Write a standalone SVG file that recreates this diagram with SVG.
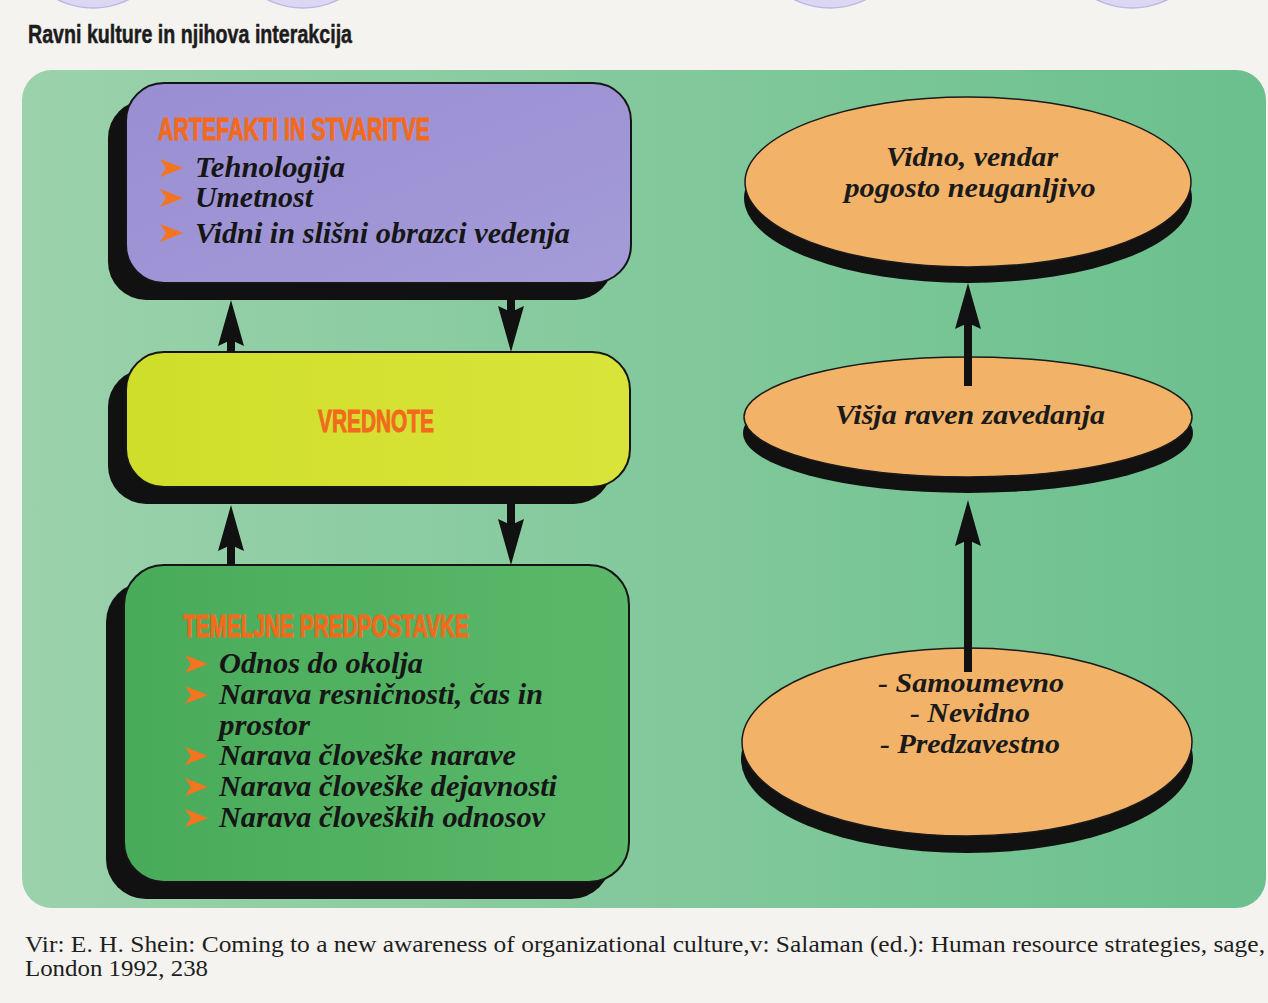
<svg xmlns="http://www.w3.org/2000/svg" width="1268" height="1003" viewBox="0 0 1268 1003">
<defs>
<style>
.title{font-family:"Liberation Sans Narrow","Liberation Sans",Arial,sans-serif;font-weight:bold;font-size:25px;fill:#1c1c1c;stroke:#1c1c1c;stroke-width:0.5}
.head{font-family:"Liberation Sans Narrow","Liberation Sans",Arial,sans-serif;font-weight:bold;font-size:31px;fill:#f26a1c;stroke:#f26a1c;stroke-width:1}
.item{font-family:"Times New Roman","Liberation Serif",Times,serif;font-style:italic;font-weight:bold;font-size:29px;fill:#161616}
.eltx{font-family:"Times New Roman","Liberation Serif",Times,serif;font-style:italic;font-weight:bold;font-size:27px;fill:#1a1a1a;text-anchor:middle}
.src{font-family:"Times New Roman","Liberation Serif",Times,serif;font-size:23px;fill:#1e1e1e}
.shadow{fill:#111}
.boxline{stroke:#151515;stroke-width:2}
.ell{fill:#f2b267;stroke:#1a1a1a;stroke-width:1.5}
.conn{stroke:#111;stroke-width:8;fill:none;marker-end:url(#ah)}
.bul{fill:#f5741f}
.arc{fill:#dcd8f3;stroke:#bdb6e6;stroke-width:1.5}
</style>
<linearGradient id="gPanel" x1="0" y1="0" x2="1" y2="0">
<stop offset="0" stop-color="#9bd2ab"/>
<stop offset="1" stop-color="#6bc08d"/>
</linearGradient>
<linearGradient id="gPurple" x1="0" y1="0" x2="1" y2="1">
<stop offset="0" stop-color="#998ed2"/>
<stop offset="1" stop-color="#a49bd8"/>
</linearGradient>
<linearGradient id="gYellow" x1="0" y1="0" x2="1" y2="0">
<stop offset="0" stop-color="#cfde2a"/>
<stop offset="1" stop-color="#d9e43a"/>
</linearGradient>
<linearGradient id="gGreen" x1="0" y1="0" x2="1" y2="0">
<stop offset="0" stop-color="#48ab5a"/>
<stop offset="1" stop-color="#5bb86a"/>
</linearGradient>
<marker id="ah" viewBox="0 -14 46 28" refX="6" refY="0" markerWidth="46" markerHeight="28" markerUnits="userSpaceOnUse" orient="auto">
<path d="M0,-13 L46,0 L0,13 L6,0 z" fill="#111"/>
</marker>
<path id="bullet" d="M0,-9 L23,0 L0,9 L6,0 z"/>
</defs>

<rect x="0" y="0" width="1268" height="1003" fill="#f5f3ef"/>
<g id="top-arcs">
<ellipse class="arc" cx="93" cy="-72" rx="80" ry="80"/>
<ellipse class="arc" cx="303" cy="-72" rx="80" ry="80"/>
<ellipse class="arc" cx="830" cy="-72" rx="80" ry="80"/>
<ellipse class="arc" cx="1132" cy="-72" rx="80" ry="80"/>
</g>

<text class="title" x="28" y="43" textLength="324" lengthAdjust="spacingAndGlyphs">Ravni kulture in njihova interakcija</text>

<rect id="panel" x="22" y="70" width="1244" height="838" rx="30" fill="url(#gPanel)"/>

<g id="artefakti">
<rect class="shadow" x="108" y="100" width="505" height="200" rx="38"/>
<rect class="boxline" x="126" y="83" width="505" height="200" rx="38" fill="url(#gPurple)"/>
<text class="head" x="158" y="140" textLength="272" lengthAdjust="spacingAndGlyphs">ARTEFAKTI IN STVARITVE</text>
<use href="#bullet" class="bul" x="160" y="168"/>
<use href="#bullet" class="bul" x="160" y="198"/>
<use href="#bullet" class="bul" x="160" y="233"/>
<text class="item" x="195" y="177" textLength="150" lengthAdjust="spacingAndGlyphs">Tehnologija</text>
<text class="item" x="195" y="207" textLength="118" lengthAdjust="spacingAndGlyphs">Umetnost</text>
<text class="item" x="195" y="243" textLength="375" lengthAdjust="spacingAndGlyphs">Vidni in slišni obrazci vedenja</text>
</g>

<g id="vrednote">
<rect class="shadow" x="108" y="369" width="504" height="135" rx="38"/>
<rect class="boxline" x="126" y="352" width="504" height="135" rx="38" fill="url(#gYellow)"/>
<text class="head" x="318" y="432" textLength="116" lengthAdjust="spacingAndGlyphs">VREDNOTE</text>
</g>

<g id="temeljne">
<rect class="shadow" x="106" y="582" width="505" height="317" rx="40"/>
<rect class="boxline" x="124" y="565" width="505" height="317" rx="40" fill="url(#gGreen)"/>
<text class="head" x="183" y="637" textLength="286" lengthAdjust="spacingAndGlyphs">TEMELJNE PREDPOSTAVKE</text>
<use href="#bullet" class="bul" x="185" y="664"/>
<use href="#bullet" class="bul" x="185" y="695"/>
<use href="#bullet" class="bul" x="185" y="756"/>
<use href="#bullet" class="bul" x="185" y="787"/>
<use href="#bullet" class="bul" x="185" y="818"/>
<text class="item" x="219" y="673" textLength="204" lengthAdjust="spacingAndGlyphs">Odnos do okolja</text>
<text class="item" x="219" y="704" textLength="324" lengthAdjust="spacingAndGlyphs">Narava resničnosti, čas in</text>
<text class="item" x="219" y="735" textLength="91" lengthAdjust="spacingAndGlyphs">prostor</text>
<text class="item" x="219" y="765" textLength="297" lengthAdjust="spacingAndGlyphs">Narava človeške narave</text>
<text class="item" x="219" y="796" textLength="338" lengthAdjust="spacingAndGlyphs">Narava človeške dejavnosti</text>
<text class="item" x="219" y="827" textLength="326" lengthAdjust="spacingAndGlyphs">Narava človeških odnosov</text>
</g>

<g id="vidno">
<ellipse class="shadow" cx="968" cy="198" rx="224" ry="85"/>
<ellipse class="ell" cx="968" cy="182" rx="223" ry="85"/>
<text class="eltx" x="972" y="166" textLength="172" lengthAdjust="spacingAndGlyphs">Vidno, vendar</text>
<text class="eltx" x="970" y="197" textLength="251" lengthAdjust="spacingAndGlyphs">pogosto neuganljivo</text>
</g>

<g id="visja">
<ellipse class="shadow" cx="968" cy="433" rx="225" ry="60"/>
<ellipse class="ell" cx="968" cy="417" rx="224" ry="60"/>
<text class="eltx" x="970" y="424" textLength="270" lengthAdjust="spacingAndGlyphs">Višja raven zavedanja</text>
</g>

<g id="predzavestno">
<ellipse class="shadow" cx="967" cy="759" rx="226" ry="94"/>
<ellipse class="ell" cx="967" cy="742" rx="225" ry="94"/>
<text class="eltx" x="971" y="692" textLength="186" lengthAdjust="spacingAndGlyphs">- Samoumevno</text>
<text class="eltx" x="970" y="722" textLength="120" lengthAdjust="spacingAndGlyphs">- Nevidno</text>
<text class="eltx" x="970" y="753" textLength="180" lengthAdjust="spacingAndGlyphs">- Predzavestno</text>
</g>

<g id="connectors">
<path class="conn" d="M231,352 L231,340"/>
<path class="conn" d="M511,298 L511,312"/>
<path class="conn" d="M231,565 L231,545"/>
<path class="conn" d="M511,502 L511,525"/>
<path class="conn" d="M968,386 L968,323"/>
<path class="conn" d="M968,672 L968,540"/>
</g>

<text class="src" x="25" y="952" textLength="1240" lengthAdjust="spacingAndGlyphs">Vir: E. H. Shein: Coming to a new awareness of organizational culture,v: Salaman (ed.): Human resource strategies, sage,</text>
<text class="src" x="25" y="976" textLength="183" lengthAdjust="spacingAndGlyphs">London 1992, 238</text>
</svg>
